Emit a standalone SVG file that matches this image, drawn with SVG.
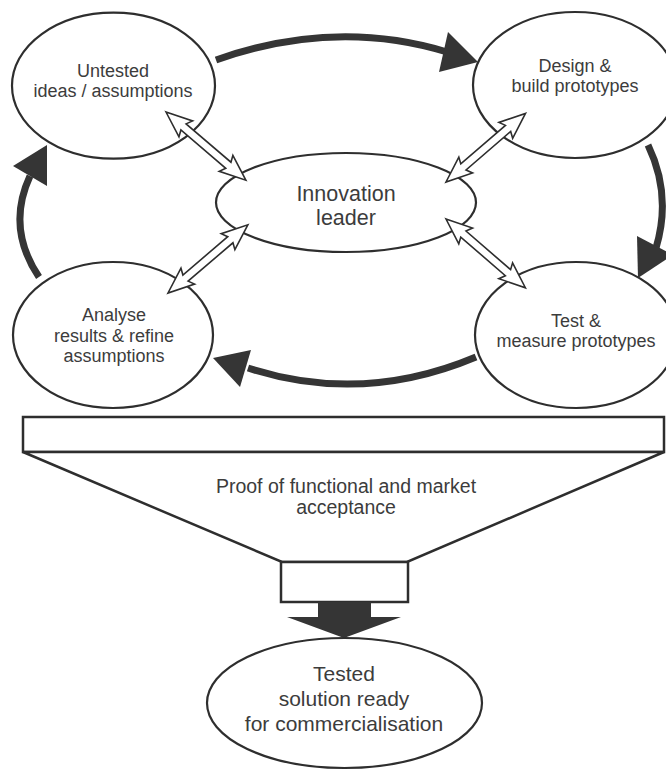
<svg xmlns="http://www.w3.org/2000/svg" width="666" height="771" viewBox="0 0 666 771">
<style>
.node{fill:#fff;stroke:#2e2e2e;stroke-width:2.2}
.t{font-family:"Liberation Sans",Arial,sans-serif;fill:#3c3c3c;text-anchor:middle}
.s18{font-size:18px}
.flow{fill:none;stroke:#353535;stroke-width:7}
.head{fill:#353535}
.dbl{fill:#fff;stroke:#2e2e2e;stroke-width:1.6;stroke-linejoin:miter}
</style>
<defs>
<path id="dbl" d="M0,0 L26,-10.5 L23,-4 L82,-4 L79,-10.5 L105,0 L79,10.5 L82,4 L23,4 L26,10.5 Z"/>
</defs>
<rect width="666" height="771" fill="#fff"/>

<g id="untested">
<ellipse class="node" cx="113.5" cy="85.7" rx="101.5" ry="73"/>
<text class="t s18" x="113" y="76.5">Untested</text>
<text class="t s18" x="113" y="96.7">ideas / assumptions</text>
</g>
<g id="design">
<ellipse class="node" cx="575" cy="85" rx="102" ry="73"/>
<text class="t s18" x="575" y="71.7">Design &amp;</text>
<text class="t s18" x="575" y="91.7">build prototypes</text>
</g>
<g id="analyse">
<ellipse class="node" cx="113" cy="335" rx="100" ry="73"/>
<text class="t s18" x="114" y="320.7">Analyse</text>
<text class="t s18" x="114" y="341.7">results &amp; refine</text>
<text class="t s18" x="114" y="362.3">assumptions</text>
</g>
<g id="test">
<ellipse class="node" cx="576" cy="335" rx="101" ry="73"/>
<text class="t s18" x="576" y="326.7">Test &amp;</text>
<text class="t s18" x="576" y="346.7">measure prototypes</text>
</g>
<g id="leader">
<ellipse class="node" cx="346" cy="202.5" rx="130" ry="49.5"/>
<text class="t" style="font-size:21.5px" x="346" y="201">Innovation</text>
<text class="t" style="font-size:21.5px" x="346" y="225">leader</text>
</g>

<g id="connectors">
<path class="flow" d="M216,60 Q335,18 447,52"/>
<polygon class="head" points="478,62 448,32 439,72"/>
<path class="flow" d="M648,145 Q672,195 656,248"/>
<polygon class="head" points="638,278 637,236 673,255"/>
<path class="flow" d="M476,357 Q362,405 248,368"/>
<polygon class="head" points="213,358 251,350 240,387"/>
<path class="flow" d="M39,277 Q6,228 30,176"/>
<polygon class="head" points="47,145 13,166 47,186"/>
<use href="#dbl" class="dbl" transform="translate(166,112) rotate(40.5)"/>
<use href="#dbl" class="dbl" transform="translate(446,182) rotate(-40.8)"/>
<use href="#dbl" class="dbl" transform="translate(168,293) rotate(-40.5)"/>
<use href="#dbl" class="dbl" transform="translate(446,219) rotate(40.9)"/>
</g>

<g id="funnel">
<rect x="23" y="417" width="641" height="35" fill="#fff" stroke="#2e2e2e" stroke-width="2.5"/>
<polygon points="23,452 664,452 407,562 282,562" fill="#fff" stroke="#2e2e2e" stroke-width="2.5" stroke-linejoin="miter"/>
<rect x="281" y="562" width="127" height="40" fill="#fff" stroke="#2e2e2e" stroke-width="2.5"/>
<text class="t" style="font-size:19.5px" x="346" y="493">Proof of functional and market</text>
<text class="t" style="font-size:19.5px" x="346" y="514">acceptance</text>
</g>

<g id="down-arrow">
<polygon class="head" points="318,602 371,602 371,617 401,617 344,638 287,617 318,617"/>
</g>

<g id="solution">
<ellipse class="node" cx="344.5" cy="703" rx="137.5" ry="65"/>
<text class="t" style="font-size:21px" x="344" y="681">Tested</text>
<text class="t" style="font-size:21px" x="344" y="706">solution ready</text>
<text class="t" style="font-size:21px" x="344" y="731">for commercialisation</text>
</g>
</svg>
